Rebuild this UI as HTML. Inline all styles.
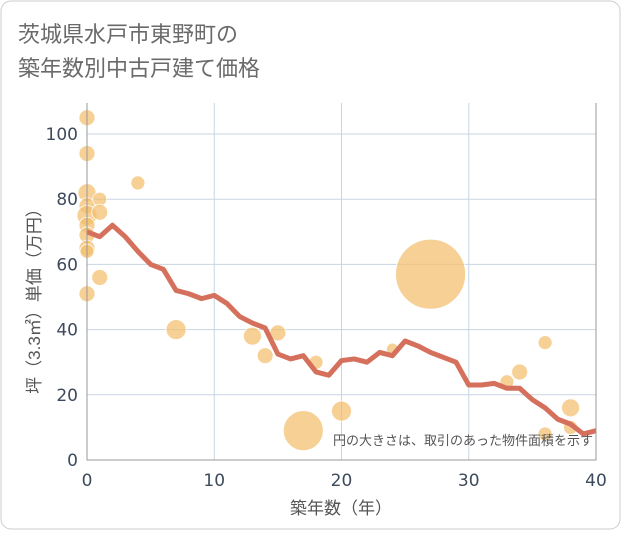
<!DOCTYPE html>
<html><head><meta charset="utf-8"><style>
body{margin:0;background:#fff;}
#wrap{position:relative;width:621px;height:530px;}
svg text{font-family:"Liberation Sans","Noto Sans CJK JP",sans-serif;}
svg text.tick{font-family:"DejaVu Sans",sans-serif;}
</style></head><body>
<div id="wrap">
<svg id="chart" width="621" height="530" xmlns="http://www.w3.org/2000/svg">
<rect x="1" y="1" width="619" height="528" rx="10" fill="#fff" stroke="#ccc"/>
<text x="18" y="42" font-size="22" fill="#6a6a6a">茨城県水戸市東野町の</text>
<text x="18" y="76" font-size="22" fill="#6a6a6a">築年数別中古戸建て価格</text>
<g id="grid"></g><g id="bubbles"></g><g id="line"></g><g id="axes"></g>
<text x="593" y="445" font-size="13" fill="#555" text-anchor="end">円の大きさは、取引のあった物件面積を示す</text>
<text x="341" y="514" font-size="17" fill="#555" text-anchor="middle">築年数（年）</text>
<text transform="translate(40,297) rotate(-90)" font-size="17" fill="#555" text-anchor="middle">坪（3.3㎡）単価（万円）</text>
</svg></div>
<script>
const lineYears=[0,1,2,3,4,5,6,7,8,9,10,11,12,13,14,15,16,17,18,19,20,21,22,23,24,25,26,27,28,29,30,31,32,33,34,35,36,37,38,39,40];
const lineValues=[70,68.5,72,68.5,64,60,58.5,52,51,49.5,50.5,48,44,42,40.5,32.5,31,32,27,26,30.5,31,30,33,32,36.5,35,33,31.5,30,23,23,23.5,22,22,18.5,16,12.5,11,8,9];
const bubbleYears=[0,0,0,0,0,0,0,0,0,0,1,1,1,4,7,13,14,15,17,18,20,24,27,33,34,36,36,38,38];
const bubbleValues=[105,94,82,78,75,72,69,65,64,51,80,76,56,85,40,38,32,39,9,30,15,34,57,24,27,36,8,16,10];
const bubbleSizes=[8,8,9,8,10,8,8,8,7,8,7,8,8,7,10,9,8,8,20,7,10,6,35,7,8,7,7,9,7];
const xTicks=[0,10,20,30,40];
const yTicks=[0,20,40,60,80,100];
const X=v=>87+v*12.725, Y=v=>460-v*3.26;
const NS="http://www.w3.org/2000/svg";
function mk(p,t,a){const e=document.createElementNS(NS,t);for(const k in a)e.setAttribute(k,a[k]);p.appendChild(e);return e;}
const g=document.getElementById('grid'),ax=document.getElementById('axes');
xTicks.forEach(t=>{const l=mk(g,'line',{x1:X(t),x2:X(t),y1:103,y2:460,stroke:'#c9d5e3'});


const tx=mk(ax,'text',{x:X(t),y:486,'font-size':17,fill:'#3d4a5c','text-anchor':'middle','class':'tick'});tx.textContent=t;

});
yTicks.forEach(t=>{const l=mk(g,'line',{x1:87,x2:596,y1:Y(t),y2:Y(t),stroke:'#c9d5e3'});


const tx=mk(ax,'text',{x:78,y:Y(t)+6,'font-size':17,fill:'#3d4a5c','text-anchor':'end','class':'tick'});tx.textContent=t;

});
const fr=mk(ax,'path',{d:'M87,103V460H596V103',fill:'none',stroke:'#999'});


const b=document.getElementById('bubbles');
bubbleYears.forEach((yr,i)=>{const c=mk(b,'circle',{cx:X(yr),cy:Y(bubbleValues[i]),r:bubbleSizes[i],fill:'rgba(243,190,107,0.72)',stroke:'#fff','stroke-width':0.8});

});
const p=mk(document.getElementById('line'),'polyline',{points:lineYears.map((yr,i)=>X(yr)+','+Y(lineValues[i])).join(' '),fill:'none',stroke:'#d5705c','stroke-width':5,'stroke-linejoin':'round'});


</script></body></html>
